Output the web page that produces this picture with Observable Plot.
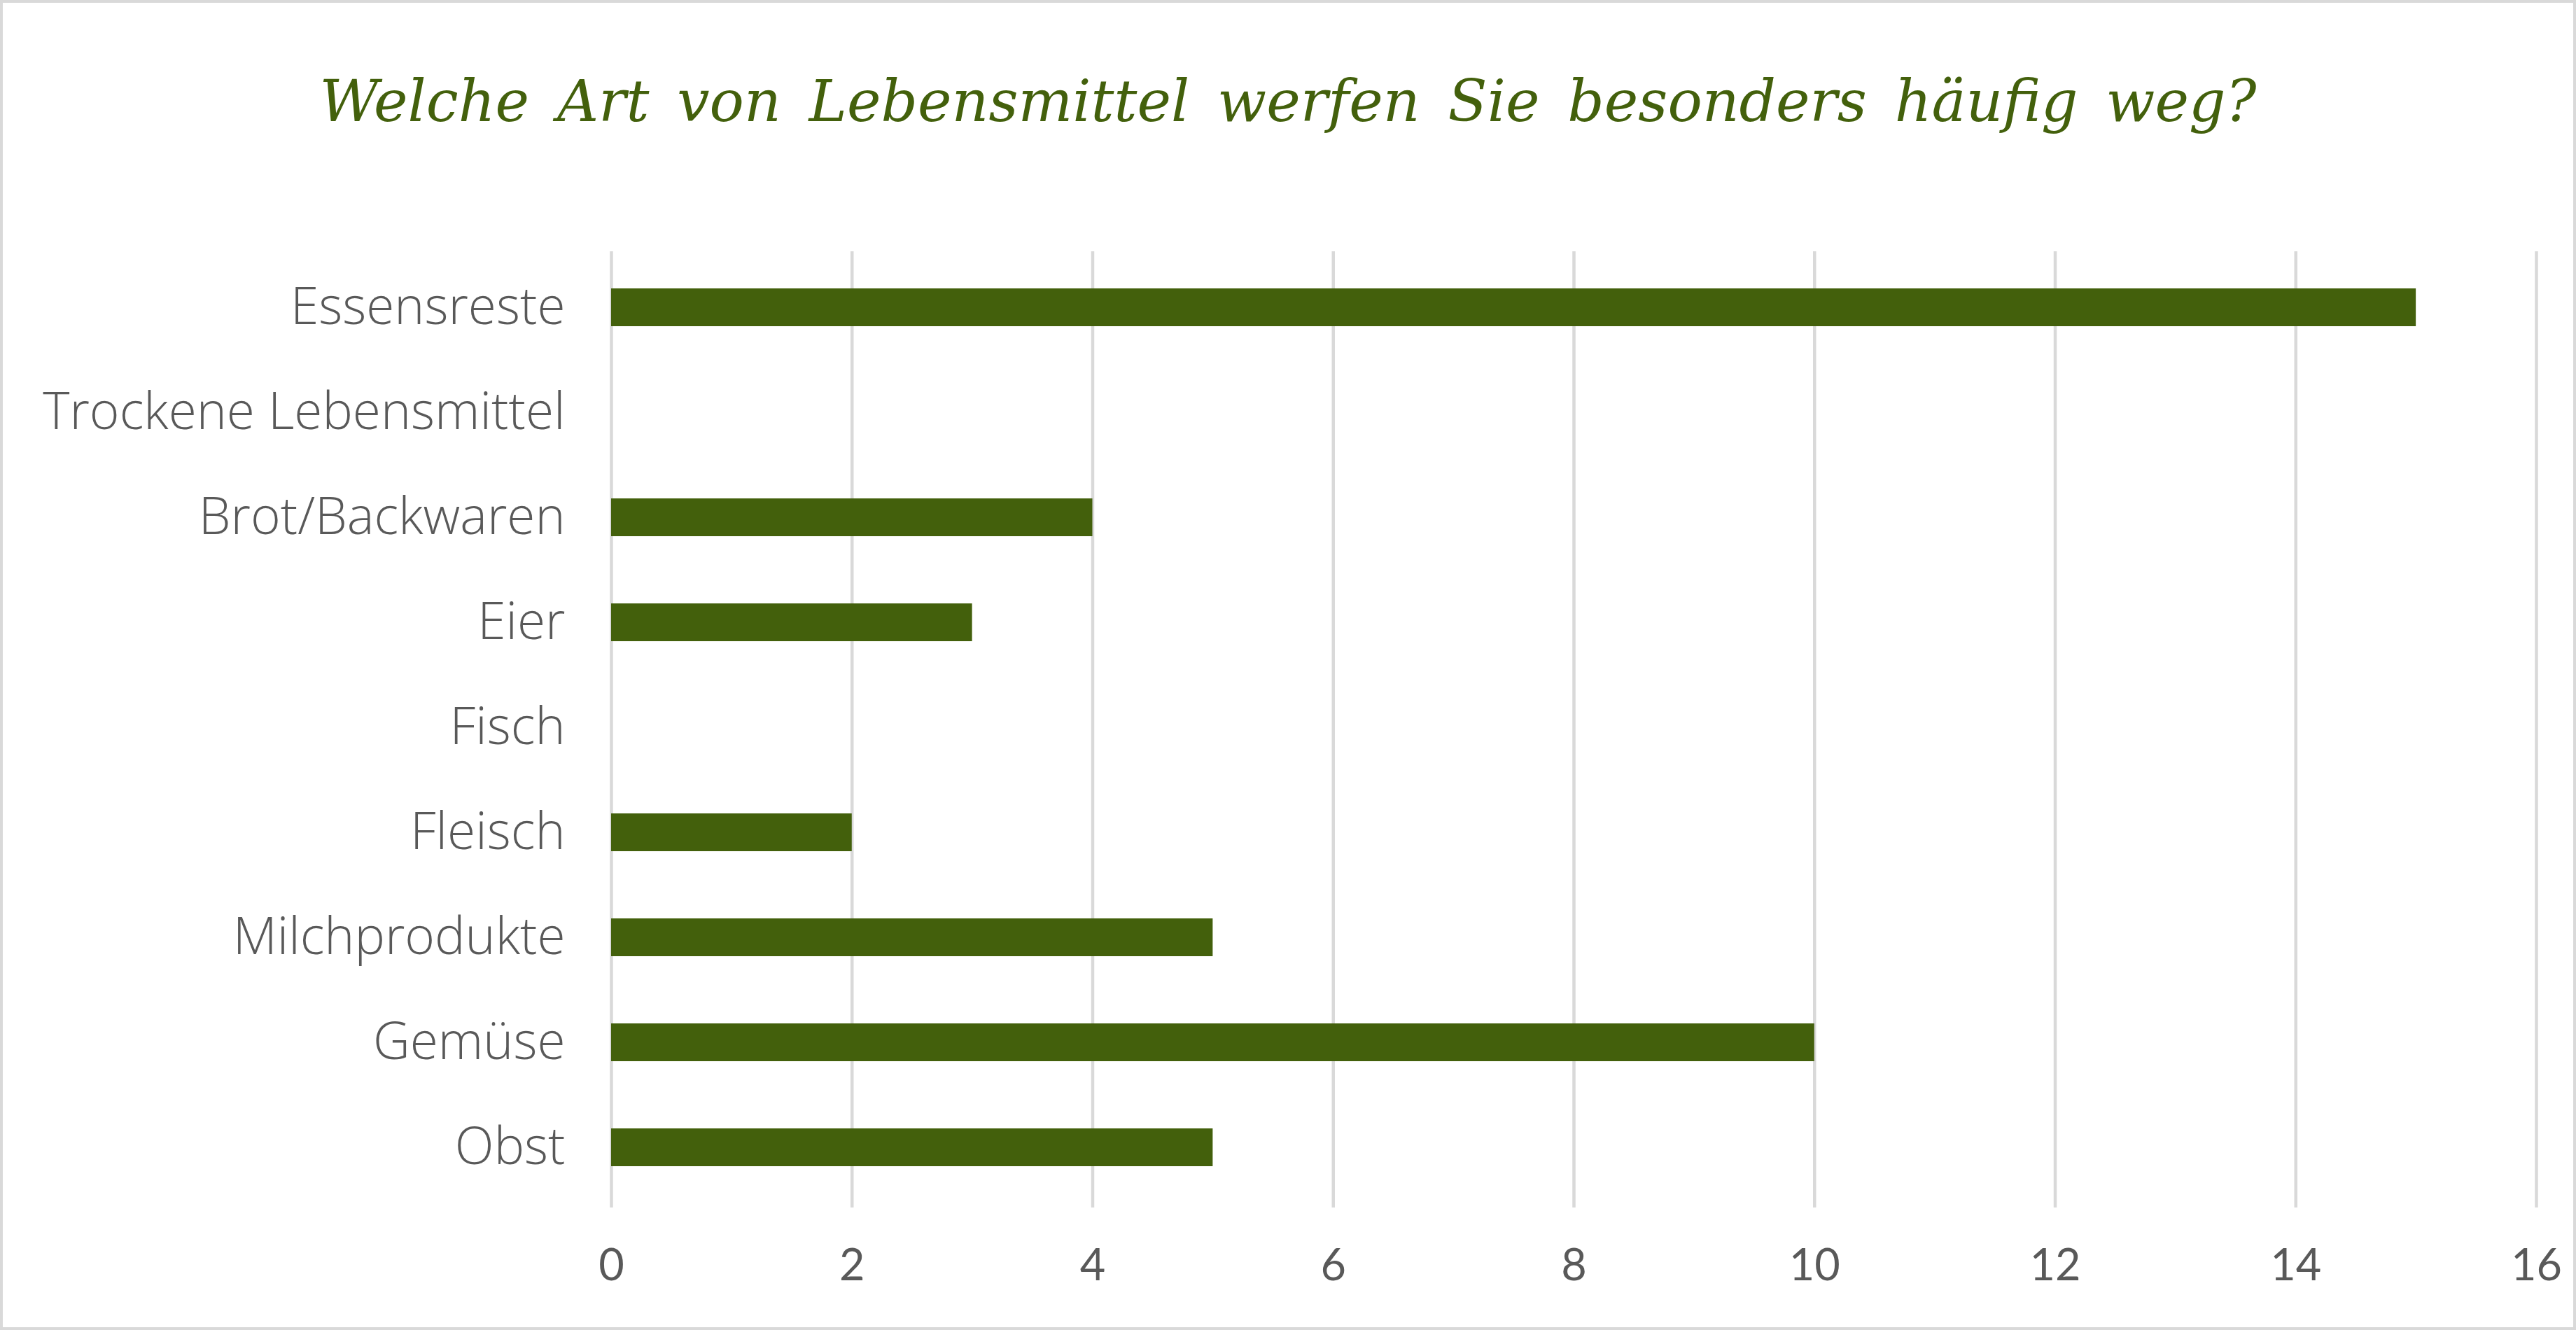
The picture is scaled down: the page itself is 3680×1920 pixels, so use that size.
<!DOCTYPE html>
<html>
<head>
<meta charset="utf-8">
<script src="https://cdn.jsdelivr.net/npm/d3@7"></script>
<script src="https://cdn.jsdelivr.net/npm/@observablehq/plot@0.6"></script>
<style>
  html, body { margin: 0; padding: 0; background: #fff; }
  #frame { position: absolute; left: 0; top: 0; width: 3680px; height: 1900px; box-sizing: border-box; border: 4px solid #d9d9d9; }
  #title { position: absolute; left: 0; top: 104px; width: 3680px; text-align: center; white-space: nowrap;
           font-family: "DejaVu Serif", serif; font-style: italic; font-size: 82px; color: #43600C; line-height: 1; }
  #chart { position: absolute; left: 0; top: 300px; }
</style>
</head>
<body>
<div id="frame"></div>
<div id="title">Welche Art von Lebensmittel werfen Sie besonders häufig weg?</div>
<div id="chart"></div>
<script>
const categories = ["Essensreste", "Trockene Lebensmittel", "Brot/Backwaren", "Eier", "Fisch", "Fleisch", "Milchprodukte", "Gemüse", "Obst"];
const values = [15, 0, 4, 3, 0, 2, 5, 10, 5];
const xTicks = [0, 2, 4, 6, 8, 10, 12, 14, 16];

const data = categories.map((c, i) => ({category: c, value: values[i]}));

// fit title width to reference span using word spacing
(function fitTitle() {
  const el = document.getElementById("title");
  const target = 2767;
  const range = document.createRange();
  range.selectNodeContents(el);
  const w = range.getBoundingClientRect().width;
  const spaces = (el.textContent.match(/ /g) || []).length;
  el.style.wordSpacing = Math.max(0, (target - w) / spaces) + "px";
})();

const chart = Plot.plot({
  width: 3680,
  height: 1600,
  marginTop: 59,
  marginBottom: 175,
  marginLeft: 873,
  marginRight: 57,
  style: { fontFamily: "Lato, 'Open Sans', sans-serif", background: "transparent" },
  x: { domain: [0, 16], ticks: xTicks, label: null },
  y: { domain: categories, paddingInner: 0.642, paddingOuter: 0.35, align: 0.47, label: null },
  marks: [
    Plot.ruleX(xTicks, { stroke: "#d9d9d9", strokeWidth: 4.5, strokeOpacity: 1 }),
    Plot.barX(data, { x: "value", y: "category", fill: "#43600C" }),
    Plot.axisX({ ticks: xTicks, tickSize: 0, tickPadding: 59, fontSize: 63, fill: "#595959", label: null }),
    Plot.axisY({ tickSize: 0, tickPadding: 66, fontSize: 73, fill: "#595959", fontWeight: 300, fontFamily: "'Open Sans', Lato, sans-serif", label: null })
  ]
});
document.getElementById("chart").appendChild(chart);
</script>
</body>
</html>
